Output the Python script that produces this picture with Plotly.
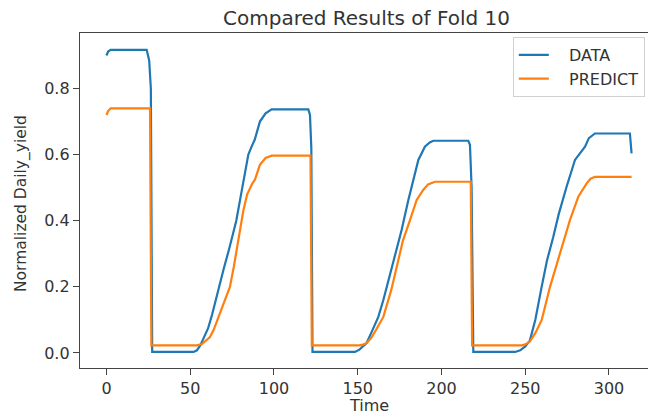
import plotly.graph_objects as go

# DATA series (blue)
data_t = [0, 1, 2.5, 24, 25.5, 26.5, 27.3, 52, 54, 56, 58, 60.7, 63, 65, 67, 70, 73, 75.5, 77.5, 80,
          82.5, 84.7, 86.7, 88.5, 91.6, 95, 98.6, 120.5, 121.5, 122.3, 123, 148.4, 151, 153, 155.3,
          158, 162.3, 165.3, 170.3, 176.2, 180.2, 182.2, 186.2, 190.1, 193, 195.1, 216, 217, 218, 219,
          244, 247, 250, 252.8, 256, 259.8, 263, 266.7, 270, 274.7, 279.7, 285.7, 288, 291.6, 312.5, 313.5]
data_v = [0.900, 0.912, 0.917, 0.917, 0.885, 0.80, 0.003, 0.003, 0.008, 0.023, 0.045, 0.075, 0.115, 0.155, 0.2,
          0.255, 0.31, 0.36, 0.40, 0.47, 0.54, 0.60, 0.625, 0.645, 0.70, 0.725, 0.737, 0.737, 0.72, 0.62,
          0.003, 0.003, 0.01, 0.02, 0.03, 0.06, 0.109, 0.16, 0.26, 0.372, 0.462, 0.503, 0.584, 0.624, 0.637,
          0.642, 0.642, 0.63, 0.50, 0.003, 0.003, 0.008, 0.02, 0.038, 0.10, 0.20, 0.28, 0.35, 0.42, 0.503,
          0.584, 0.624, 0.65, 0.664, 0.664, 0.604]

# PREDICT series (orange)
pred_t = [0, 1, 2.5, 26, 26.8, 54, 57, 59, 61.8, 64, 67, 70, 73.7, 76, 78.5, 81.7, 84, 85.7, 87, 88.7,
          91.6, 95, 98.6, 121.8, 122.6, 151, 153, 155.3, 158, 161, 165.3, 170, 174.2, 177, 181.2, 185.2,
          189.1, 192, 196.1, 217.5, 218.3, 248, 250.5, 252.8, 256, 259.8, 264.8, 270.7, 276.7, 281.7,
          286.7, 289, 291.6, 313.5]
pred_v = [0.72, 0.732, 0.74, 0.74, 0.023, 0.023, 0.027, 0.035, 0.048, 0.07, 0.11, 0.15, 0.2, 0.26, 0.33,
          0.43, 0.48, 0.50, 0.512, 0.525, 0.569, 0.59, 0.597, 0.597, 0.023, 0.023, 0.025, 0.03, 0.045,
          0.07, 0.109, 0.19, 0.28, 0.34, 0.402, 0.463, 0.493, 0.51, 0.518, 0.518, 0.023, 0.023, 0.027,
          0.035, 0.06, 0.099, 0.2, 0.30, 0.402, 0.473, 0.513, 0.527, 0.533, 0.533]

x_ticks = [0, 50, 100, 150, 200, 250, 300]
y_ticks = [0.0, 0.2, 0.4, 0.6, 0.8]
y_tick_text = ["0.0", "0.2", "0.4", "0.6", "0.8"]

FONT = "DejaVu Sans"
TXT = "#333333"
AX = "#444444"
PAD = "\u00a0\u00a0\u00a0"

fig = go.Figure()
fig.add_trace(go.Scatter(x=data_t, y=data_v, mode="lines", name=PAD + "DATA",
                         line=dict(color="#1f77b4", width=2.2)))
fig.add_trace(go.Scatter(x=pred_t, y=pred_v, mode="lines", name=PAD + "PREDICT",
                         line=dict(color="#ff7f0e", width=2.2)))

fig.update_layout(
    width=648, height=415,
    margin=dict(l=80, r=0, t=33, b=47),
    paper_bgcolor="white", plot_bgcolor="white",
    font=dict(family=FONT, size=16, color=TXT),
    showlegend=True,
    legend=dict(x=0.762, y=0.988, xanchor="left", yanchor="top",
                bgcolor="rgba(255,255,255,0.85)", bordercolor="#d0d0d0", borderwidth=1,
                font=dict(family=FONT, size=16, color=TXT), tracegroupgap=0),
    xaxis=dict(range=[-15.8, 323.3], tickvals=x_ticks, showgrid=False, zeroline=False,
               showline=True, linecolor=AX, linewidth=1.3, mirror=True,
               ticks="outside", ticklen=6, tickwidth=1.2, tickcolor=AX,
               tickfont=dict(family=FONT, size=16, color=TXT)),
    yaxis=dict(range=[-0.0455, 0.968], tickvals=y_ticks, ticktext=y_tick_text, showgrid=False,
               zeroline=False, showline=True, linecolor=AX, linewidth=1.3, mirror=False,
               ticks="outside", ticklen=6, tickwidth=1.2, tickcolor=AX,
               tickfont=dict(family=FONT, size=16, color=TXT)),
    annotations=[
        dict(text="Compared Results of Fold 10", xref="paper", yref="paper", x=0.505, y=1.045,
             xanchor="center", yanchor="middle", showarrow=False,
             font=dict(family=FONT, size=20, color=TXT)),
        dict(text="Time", xref="paper", yref="paper", x=0.509, y=-0.113,
             xanchor="center", yanchor="middle", showarrow=False,
             font=dict(family=FONT, size=16, color=TXT)),
        dict(text="Normalized Daily_yield", xref="paper", yref="paper", x=-0.103, y=0.491,
             xanchor="center", yanchor="middle", showarrow=False, textangle=-90,
             font=dict(family=FONT, size=15.5, color=TXT)),
    ],
)

fig.write_html("out.html", config={"displayModeBar": False},
               post_script="document.body.style.margin='0px';document.body.style.overflow='hidden';")
